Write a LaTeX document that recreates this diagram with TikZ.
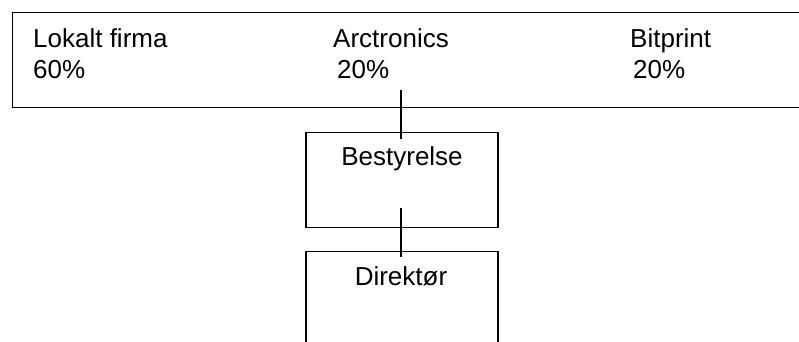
\documentclass[tikz,border=0pt]{standalone}
\usepackage{fontspec}
\setmainfont{Liberation Sans}
\begin{document}
\begin{tikzpicture}[x=1pt,y=-1pt,
  box/.style={draw,line width=1.3pt,inner sep=0pt,minimum width=192pt,minimum height=95pt},
  lbl/.style={inner sep=0pt,font=\fontsize{26}{31}\selectfont},
  conn/.style={line width=1.3pt}]
\useasboundingbox (0,0) rectangle (799,341);
\clip (0,0) rectangle (799,341);
\node[draw,line width=1.3pt,inner sep=0pt,minimum width=820pt,minimum height=95pt,anchor=north west] (top) at (12,12) {};
\node[lbl,anchor=base west] (t1) at (33,47) {Lokalt firma};
\node[lbl,anchor=base west] (p1) at (33,78) {60\%};
\node[lbl,anchor=base west] (t2) at (333,47) {Arctronics};
\node[lbl,anchor=base west] (p2) at (337,78) {20\%};
\node[lbl,anchor=base west] (t3) at (630,47) {Bitprint};
\node[lbl,anchor=base west] (p3) at (633,78) {20\%};
\node[box,anchor=north] (best) at (402,132) {};
\node[lbl,anchor=base] (bestt) at (402,165) {Bestyrelse};
\node[box,anchor=north] (dir) at (402,251) {};
\node[lbl,anchor=base] (dirt) at (401,285) {Direktør};
\coordinate (c1) at (401,90);
\coordinate (c2) at (401,208);
\coordinate (e1) at ([yshift=-6.5pt]best.north);
\coordinate (e2) at ([yshift=-6pt]dir.north);
\draw[conn] (c1) -- (c1 |- e1);
\draw[conn] (c2) -- (c2 |- e2);
\end{tikzpicture}
\end{document}
